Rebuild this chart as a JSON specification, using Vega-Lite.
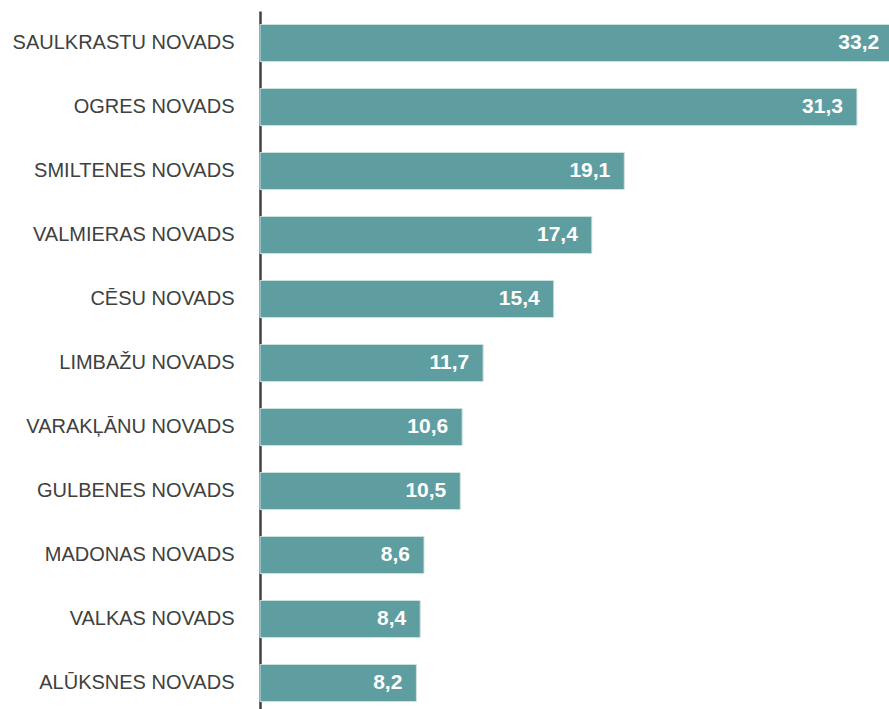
{
  "$schema": "https://vega.github.io/schema/vega-lite/v6.json",
  "width": 629,
  "height": 704,
  "autosize": {"type": "none"},
  "padding": {"left": 260, "top": 11, "right": 0, "bottom": 0},
  "background": "white",
  "config": {
    "view": {"stroke": null},
    "locale": {"number": {"decimal": ",", "thousands": " ", "grouping": [3], "currency": ["", " €"]}}
  },
  "data": {
    "values": [
      {"novads": "SAULKRASTU NOVADS", "value": 33.2},
      {"novads": "OGRES NOVADS", "value": 31.3},
      {"novads": "SMILTENES NOVADS", "value": 19.1},
      {"novads": "VALMIERAS NOVADS", "value": 17.4},
      {"novads": "CĒSU NOVADS", "value": 15.4},
      {"novads": "LIMBAŽU NOVADS", "value": 11.7},
      {"novads": "VARAKĻĀNU NOVADS", "value": 10.6},
      {"novads": "GULBENES NOVADS", "value": 10.5},
      {"novads": "MADONAS NOVADS", "value": 8.6},
      {"novads": "VALKAS NOVADS", "value": 8.4},
      {"novads": "ALŪKSNES NOVADS", "value": 8.2}
    ]
  },
  "encoding": {
    "y": {
      "field": "novads",
      "type": "nominal",
      "sort": null,
      "scale": {"paddingInner": 0.42, "paddingOuter": 0.21},
      "axis": {
        "title": null,
        "ticks": false,
        "labelPadding": 26,
        "labelFont": "Liberation Sans",
        "labelFontSize": 20,
        "labelColor": "#404040",
        "labelLimit": 300,
        "domainColor": "#404040",
        "domainWidth": 2.5
      }
    },
    "x": {
      "field": "value",
      "type": "quantitative",
      "scale": {"domain": [0, 32.98]},
      "axis": null
    }
  },
  "layer": [
    {"mark": {"type": "bar", "color": "#5F9EA0", "stroke": "#cfe2e0", "strokeWidth": 1}},
    {
      "mark": {"type": "text", "align": "right", "baseline": "middle", "dx": -14, "color": "white", "fontWeight": "bold", "fontSize": 21, "font": "Liberation Sans"},
      "encoding": {"text": {"field": "value", "type": "quantitative", "format": ".1f"}}
    }
  ]
}
